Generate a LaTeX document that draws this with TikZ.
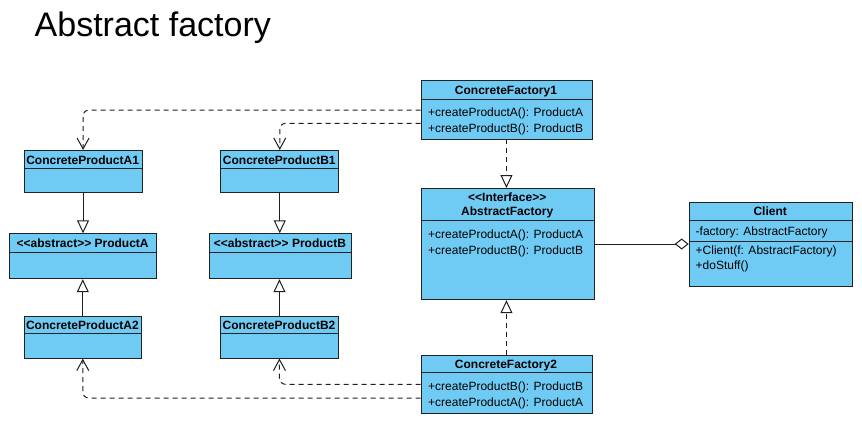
\documentclass[tikz,border=0pt]{standalone}
\usepackage{fontspec}
\newfontfamily\arial{Liberation Sans}
\usetikzlibrary{arrows.meta}
\definecolor{umlfill}{HTML}{70CBF4}
\definecolor{umlline}{HTML}{222222}
\definecolor{conn}{HTML}{1E1E1E}
\begin{document}
\begin{tikzpicture}[x=1pt,y=-1pt,
 cls/.style={draw=umlline, fill=umlfill, line width=0.9pt, inner sep=0pt, anchor=north west},
 div/.style={draw=umlline, line width=0.9pt},
 hdr/.style={font=\arial\bfseries\fontsize{12}{14}\selectfont, inner sep=0pt, anchor=base},
 mth/.style={font=\arial\fontsize{12}{14}\selectfont, inner sep=0pt, anchor=base west},
 ttl/.style={font=\arial\fontsize{34}{40}\selectfont, inner sep=0pt, anchor=base west},
 dep/.style={draw=conn, line width=1pt, dash pattern=on 5pt off 4pt, -{Straight Barb[length=11pt,width=12pt]}},
 impl/.style={draw=conn, line width=1pt, dash pattern=on 5pt off 4pt, -{Triangle[open,length=13pt,width=12pt]}},
 gen/.style={draw=conn, line width=1pt, -{Triangle[open,length=13pt,width=12pt]}},
 agg/.style={draw=conn, line width=1pt, -{Diamond[open,length=14pt,width=11pt]}}]
\useasboundingbox (0,0) rectangle (862,426);

\node[ttl] (title) at (34.5,36.7) {Abstract factory};

% boxes
\node[cls, minimum width=171pt, minimum height=58.5pt] (cf1) at (420.5,80) {};
\node[cls, minimum width=173.5pt, minimum height=111.3pt] (af) at (420.5,188) {};
\node[cls, minimum width=163pt, minimum height=84.3pt] (client) at (688.7,201.7) {};
\node[cls, minimum width=118.2pt, minimum height=42.3pt] (a1) at (23.5,150) {};
\node[cls, minimum width=118pt, minimum height=42.3pt] (b1) at (220.3,150) {};
\node[cls, minimum width=146.7pt, minimum height=45pt] (pa) at (9.3,233.3) {};
\node[cls, minimum width=142pt, minimum height=45pt] (pb) at (209,233.3) {};
\node[cls, minimum width=117.3pt, minimum height=42pt] (a2) at (23.7,315.7) {};
\node[cls, minimum width=118pt, minimum height=42pt] (b2) at (220,315.7) {};
\node[cls, minimum width=171pt, minimum height=58.3pt] (cf2) at (420.5,355) {};

% dividers
\draw[div] ([yshift=-19pt]cf1.north west) -- ([yshift=-19pt]cf1.north east);
\draw[div] ([yshift=-32.7pt]af.north west) -- ([yshift=-32.7pt]af.north east);
\draw[div] ([yshift=-18.3pt]client.north west) -- ([yshift=-18.3pt]client.north east);
\draw[div] ([yshift=-39.3pt]client.north west) -- ([yshift=-39.3pt]client.north east);
\draw[div] ([yshift=-18pt]a1.north west) -- ([yshift=-18pt]a1.north east);
\draw[div] ([yshift=-18pt]b1.north west) -- ([yshift=-18pt]b1.north east);
\draw[div] ([yshift=-18.7pt]pa.north west) -- ([yshift=-18.7pt]pa.north east);
\draw[div] ([yshift=-18.7pt]pb.north west) -- ([yshift=-18.7pt]pb.north east);
\draw[div] ([yshift=-17.6pt]a2.north west) -- ([yshift=-17.6pt]a2.north east);
\draw[div] ([yshift=-17.6pt]b2.north west) -- ([yshift=-17.6pt]b2.north east);
\draw[div] ([yshift=-17.7pt]cf2.north west) -- ([yshift=-17.7pt]cf2.north east);

% texts
\node[hdr] (cf1n) at (506,94) {ConcreteFactory1};
\node[mth] (cf1m1) at (428,116.5) {+createProductA(): ProductA};
\node[mth] (cf1m2) at (428,132.5) {+createProductB(): ProductB};

\node[hdr] (afs) at (507.25,201.5) {<\kern0pt<Interface>\kern0pt>};
\node[hdr] (afn) at (507.25,215.5) {AbstractFactory};
\node[mth] (afm1) at (428,238.5) {+createProductA(): ProductA};
\node[mth] (afm2) at (428,254.5) {+createProductB(): ProductB};

\node[hdr] (cln) at (770.2,215) {Client};
\node[mth] (cla) at (695.5,235.5) {-factory: AbstractFactory};
\node[mth] (clm1) at (695.5,254) {+Client(f: AbstractFactory)};
\node[mth] (clm2) at (695.5,269) {+doStuff()};

\node[hdr] (a1n) at (82.6,164) {ConcreteProductA1};
\node[hdr] (b1n) at (279.3,164) {ConcreteProductB1};
\node[hdr] (pan) at (82.6,247) {<\kern0pt<abstract>\kern0pt> ProductA};
\node[hdr] (pbn) at (280,247) {<\kern0pt<abstract>\kern0pt> ProductB};
\node[hdr] (a2n) at (82.4,329) {ConcreteProductA2};
\node[hdr] (b2n) at (279,329) {ConcreteProductB2};

\node[hdr] (cf2n) at (506,368) {ConcreteFactory2};
\node[mth] (cf2m1) at (428,390.5) {+createProductB(): ProductB};
\node[mth] (cf2m2) at (428,406) {+createProductA(): ProductA};

% connectors
\draw[dep] ([yshift=-30pt]cf1.north west) {[rounded corners=6pt] -| (a1.north)};
\draw[dep] ([yshift=-43.3pt]cf1.north west) {[rounded corners=6pt] -| (b1.north)};
\draw[dep] ([yshift=-29.3pt]cf2.north west) {[rounded corners=6pt] -| (b2.south)};
\draw[dep] ([yshift=-43pt]cf2.north west) {[rounded corners=6pt] -| (a2.south)};

\draw[gen] (a1.south) -- (a1.south |- pa.north);
\draw[gen] (b1.south) -- (b1.south |- pb.north);
\draw[gen] (a2.north) -- (a2.north |- pa.south);
\draw[gen] (b2.north) -- (b2.north |- pb.south);

\draw[impl] (cf1.south) -- (cf1.south |- af.north);
\draw[impl] (cf2.north) -- (cf2.north |- af.south);

\coordinate (aggs) at ([yshift=-56pt]af.north east);
\draw[agg] (aggs) -- (aggs -| client.west);
\end{tikzpicture}
\end{document}
